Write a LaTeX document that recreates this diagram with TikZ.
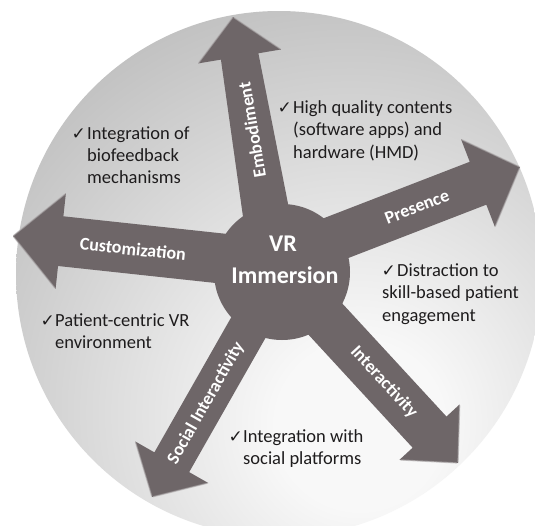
\documentclass[tikz,border=0pt]{standalone}
\usepackage{fontspec}
\setmainfont{Carlito}
\newfontfamily\symfont{DejaVu Sans}
\usetikzlibrary{calc}
\definecolor{arrowgray}{RGB}{110,102,104}
\definecolor{bgA}{RGB}{248,248,248}
\definecolor{bgB}{RGB}{146,146,146}
\definecolor{txt}{RGB}{30,28,29}
\pgfdeclareradialshading{bgshade}{\pgfpoint{8bp}{-15bp}}{color(0bp)=(bgA); color(8bp)=(bgA); color(66bp)=(bgB); color(200bp)=(bgB)}
% #1 start, #2 tip, #3 half width at start, #4 half width at head, #5 head half width, #6 head length, #7 name
\newcommand{\blockarrow}[7]{%
  \coordinate (#7-b) at ($(#2)!#6!(#1)$);
  \coordinate (#7-h1) at ($(#7-b)!#5!90:(#2)$);
  \coordinate (#7-h2) at ($(#7-b)!#5!-90:(#2)$);
  \fill[arrowbody] ($(#1)!#3!90:(#2)$) -- ($(#7-b)!#4!90:(#2)$) -- (#7-h1) -- (#2)
    -- (#7-h2) -- ($(#7-b)!#4!-90:(#2)$) -- ($(#1)!#3!-90:(#2)$) -- cycle;
  \draw[bevel] ($(#7-h1)!1pt!(#2)$) -- ($(#2)!1pt!(#7-h1)$);
  \draw[bevel] ($(#7-h2)!1pt!(#2)$) -- ($(#2)!1pt!(#7-h2)$);
}
\begin{document}
\begin{tikzpicture}[x=1pt,y=-1pt,
  arrowbody/.style={fill=arrowgray},
  bevel/.style={draw=arrowgray!55!white, line width=1.3pt, opacity=0.6},
  body/.style={font=\fontsize{18.5}{22}\selectfont, text=txt, inner sep=0pt, anchor=base west},
  chk/.style={font=\symfont\fontsize{17}{17}\selectfont, text=txt, inner sep=0pt, anchor=base east},
  lbl/.style={font=\bfseries\fontsize{18}{20}\selectfont, text=white, inner sep=0pt},
  centertxt/.style={font=\bfseries\fontsize{24}{28}\selectfont, text=white, inner sep=0pt, anchor=base}]
\useasboundingbox (0,0) rectangle (535,525);
\fill[white] (0,0) rectangle (535,525);
\shade[shading=bgshade] (279,274) circle [radius=263pt];

% arrow start points and tips
\coordinate (sEmb) at (276,272);  \coordinate (tEmb) at (233,17);
\coordinate (sPre) at (282,259);  \coordinate (tPre) at (520,167);
\coordinate (sCus) at (282,265);  \coordinate (tCus) at (13,236);
\coordinate (sInt) at (282,272);  \coordinate (tInt) at (458,463);
\coordinate (sSoc) at (280,272);  \coordinate (tSoc) at (152,497);

\blockarrow{sEmb}{tEmb}{25pt}{19pt}{42pt}{40pt}{emb}
\blockarrow{sPre}{tPre}{23pt}{23pt}{47pt}{45pt}{pre}
\blockarrow{sCus}{tCus}{25pt}{25pt}{48pt}{48pt}{cus}
\blockarrow{sInt}{tInt}{23pt}{23pt}{41pt}{42pt}{int}
\blockarrow{sSoc}{tSoc}{20pt}{20pt}{42pt}{40pt}{soc}

\node[circle, fill=arrowgray, minimum size=136pt, inner sep=0pt] (core) at (282,272) {};
\node[centertxt] (vr) at (283,251) {VR};
\node[centertxt] (imm) at (285,283) {Immersion};

% arrow labels
\node[lbl, rotate=-6.2] (lCus) at (133,249) {Customization};
\node[lbl, rotate=21.1] (lPre) at (417,207) {Presence};
\node[lbl, rotate=99.6] (lEmb) at (252,130) {Embodiment};
\node[lbl, rotate=-47.3] (lInt) at (384,382) {Interactivity};
\node[lbl, rotate=60.4] (lSoc) at (206,403) {Social Interactivity};

% text blocks
\node[chk] (cA) at (292,113) {✓};
\node[body] (a1) at (293,113) {High quality contents};
\node[body] (a2) at (293,135) {(software apps) and};
\node[body] (a3) at (293,158) {hardware (HMD)};

\node[chk] (cB) at (86,139) {✓};
\node[body] (b1) at (87,139) {Integration of};
\node[body] (b2) at (87,161) {biofeedback};
\node[body] (b3) at (87,183) {mechanisms};

\node[chk] (cC) at (396,276) {✓};
\node[body] (c1) at (397,276) {Distraction to};
\node[body] (c2) at (382,298) {skill-based patient};
\node[body] (c3) at (382,321) {engagement};

\node[chk] (cD) at (55,326) {✓};
\node[body] (d1) at (55,326) {Patient-centric VR};
\node[body] (d2) at (55,348) {environment};

\node[chk] (cE) at (243,442) {✓};
\node[body] (e1) at (243,442) {Integration with};
\node[body] (e2) at (243,464) {social platforms};
\end{tikzpicture}
\end{document}
